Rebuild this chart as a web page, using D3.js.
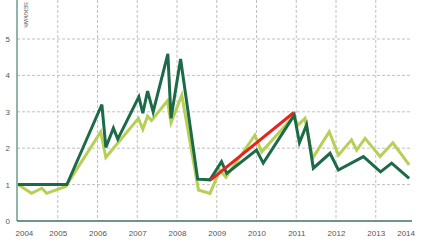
<!DOCTYPE html>
<html>
<head>
<meta charset="utf-8">
<script src="https://cdn.jsdelivr.net/npm/d3@7"></script>
<style>
  body { margin: 0; background: #fff; }
  text { font-family: "Liberation Sans", Arial, sans-serif; }
</style>
</head>
<body>
<div id="chart"></div>
<script>
// data (decimal years)
const darkYears = [2004.0, 2005.23, 2006.11, 2006.21, 2006.40, 2006.51, 2007.04, 2007.14, 2007.26, 2007.40,
  2007.77, 2007.85, 2008.09, 2008.52, 2008.83, 2009.12, 2009.25, 2010.00, 2010.17, 2010.95,
  2011.08, 2011.26, 2011.43, 2011.85, 2012.06, 2012.69, 2013.12, 2013.40, 2013.84];
const darkValues = [1.0, 1.0, 3.2, 2.02, 2.55, 2.25, 3.41, 2.96, 3.57, 3.0,
  4.59, 2.82, 4.45, 1.15, 1.13, 1.63, 1.31, 1.95, 1.59, 2.91,
  2.15, 2.64, 1.45, 1.86, 1.40, 1.77, 1.35, 1.59, 1.17];

const lightYears = [2004.0, 2004.34, 2004.60, 2004.72, 2005.2, 2006.08, 2006.21, 2007.03, 2007.14, 2007.26,
  2007.36, 2007.76, 2007.85, 2008.12, 2008.54, 2008.83, 2009.08, 2009.23, 2009.96, 2010.13,
  2010.93, 2011.05, 2011.22, 2011.41, 2011.83, 2012.06, 2012.39, 2012.52, 2012.73, 2013.11,
  2013.43, 2013.84];
const lightValues = [1.0, 0.76, 0.9, 0.76, 0.95, 2.45, 1.75, 2.82, 2.52, 2.88,
  2.76, 3.3, 2.7, 3.46, 0.85, 0.76, 1.4, 1.2, 2.36, 1.9,
  2.87, 2.64, 2.82, 1.72, 2.45, 1.81, 2.23, 1.95, 2.27, 1.77,
  2.15, 1.54];

const redYears = [2008.85, 2010.94];
const redValues = [1.13, 2.98];

const yearTicks = [2004, 2005, 2006, 2007, 2008, 2009, 2010, 2011, 2012, 2013, 2014];
const valueTicks = [0, 1, 2, 3, 4, 5];
const unitLabel = "SEK/kWh";

const width = 423, height = 245;
const left = 17, right = 412, bottom = 221;

const svg = d3.select("#chart").append("svg")
  .attr("width", width)
  .attr("height", height);

const x = d3.scaleLinear().domain([2004, 2014]).range([18, 415.5]);
const y = d3.scaleLinear().domain([0, 5]).range([bottom, 39]);

// grid
svg.append("g").selectAll("line.v")
  .data(yearTicks.filter(d => d > 2004 && d < 2014))
  .join("line")
  .attr("x1", d => x(d)).attr("x2", d => x(d))
  .attr("y1", 0).attr("y2", bottom)
  .style("stroke", "#b0b0b0")
  .style("stroke-width", 0.8)
  .style("stroke-dasharray", "3,2");

svg.append("g").selectAll("line.h")
  .data(valueTicks.filter(d => d > 0))
  .join("line")
  .attr("x1", left).attr("x2", right)
  .attr("y1", d => y(d)).attr("y2", d => y(d))
  .style("stroke", "#b0b0b0")
  .style("stroke-width", 0.8)
  .style("stroke-dasharray", "3,2");

// axes
const yAxis = svg.append("g")
  .attr("transform", "translate(" + left + ",0)")
  .call(d3.axisLeft(y).tickValues(valueTicks).tickFormat(d3.format("d")).tickSize(0).tickPadding(7));
yAxis.select(".domain").remove();
yAxis.selectAll("text").style("font-size", "8px").style("fill", "#555");

const xAxis = svg.append("g")
  .attr("transform", "translate(0," + bottom + ")")
  .call(d3.axisBottom(x).tickValues(yearTicks).tickFormat(d3.format("d")).tickSize(0).tickPadding(9));
xAxis.select(".domain").remove();
xAxis.selectAll("text").style("font-size", "8px").style("fill", "#555");
xAxis.selectAll("text").filter(d => d === 2004).attr("text-anchor", "start").attr("dx", -3);
xAxis.selectAll("text").filter(d => d === 2014).attr("text-anchor", "end").attr("dx", -1);

svg.append("line")
  .attr("x1", left).attr("x2", left)
  .attr("y1", 0).attr("y2", bottom)
  .style("stroke", "#6e9c8c")
  .style("stroke-width", 1.5);

svg.append("line")
  .attr("x1", left).attr("x2", right)
  .attr("y1", bottom).attr("y2", bottom)
  .style("stroke", "#3f7360")
  .style("stroke-width", 1.5);

svg.append("text")
  .attr("transform", "translate(24,2) rotate(90)")
  .style("font-size", "6px")
  .style("fill", "#555")
  .text(unitLabel);

// lines
const line = d3.line().x(d => x(d[0])).y(d => y(d[1]));

function drawSeries(years, values, color) {
  svg.append("path")
    .datum(d3.zip(years, values))
    .attr("d", line)
    .style("fill", "none")
    .style("stroke", color)
    .style("stroke-width", 3)
    .style("stroke-linejoin", "miter");
}

drawSeries(lightYears, lightValues, "#b6cf55");
drawSeries(darkYears, darkValues, "#1c6a47");
drawSeries(redYears, redValues, "#e8231e");
</script>
</body>
</html>
